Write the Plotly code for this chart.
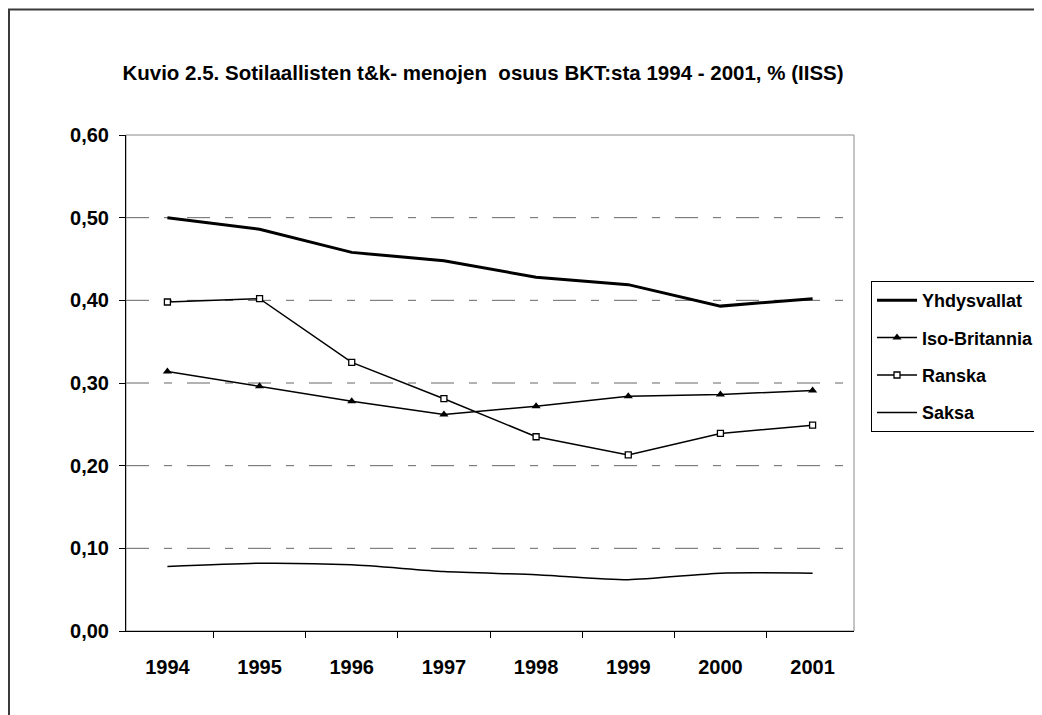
import plotly.graph_objects as go

years = ["1994", "1995", "1996", "1997", "1998", "1999", "2000", "2001"]
yhdysvallat = [0.500, 0.486, 0.458, 0.448, 0.428, 0.419, 0.393, 0.402]
iso_britannia = [0.314, 0.296, 0.278, 0.262, 0.272, 0.284, 0.286, 0.291]
ranska = [0.398, 0.402, 0.325, 0.281, 0.235, 0.213, 0.239, 0.249]
saksa = [0.078, 0.082, 0.080, 0.072, 0.068, 0.062, 0.070, 0.070]
y_tick_vals = [0.0, 0.1, 0.2, 0.3, 0.4, 0.5, 0.6]
y_tick_text = ["0,00", "0,10", "0,20", "0,30", "0,40", "0,50", "0,60"]
title_text = "Kuvio 2.5. Sotilaallisten t&k- menojen \u00a0osuus BKT:sta 1994 - 2001, % (IISS)"

FONT = "Liberation Sans, Arial, sans-serif"
OFF = 8  # page body margin
PL, PW, PT, PB = 126 - OFF, 728, 135 - OFF, 631 - OFF  # plot area in figure px
PH = PB - PT

fig = go.Figure()
fig.add_trace(go.Scatter(x=years, y=yhdysvallat, name="<b>Yhdysvallat</b>", mode="lines",
                         line=dict(color="black", width=3), legendgroup="a"))
fig.add_trace(go.Scatter(x=years, y=iso_britannia, name="<b>Iso-Britannia</b>", mode="lines+markers",
                         line=dict(color="black", width=1.5),
                         marker=dict(symbol="triangle-up", size=8, color="black"), legendgroup="b"))
fig.add_trace(go.Scatter(x=years, y=ranska, name="<b>Ranska</b>", mode="lines+markers",
                         line=dict(color="black", width=1.5),
                         marker=dict(symbol="square", size=6, color="white",
                                     line=dict(color="black", width=1.3)), legendgroup="c"))
fig.add_trace(go.Scatter(x=years, y=saksa, name="<b>Saksa</b>", mode="lines",
                         line=dict(color="black", width=1.5, shape="spline", smoothing=0.6), legendgroup="d"))

# dashed gridlines
for v in y_tick_vals[1:-1]:
    fig.add_shape(type="line", xref="paper", yref="y", x0=0, x1=1, y0=v, y1=v,
                  line=dict(color="#666666", width=1, dash="23px,15px,8px,15px"), layer="below")
# plot area border (gray top/right)
fig.add_shape(type="rect", xref="paper", yref="paper", x0=0, x1=1, y0=0, y1=1,
              line=dict(color="#888888", width=1), layer="below")
# outer chart border (left/top visible, right/bottom beyond the view)
fig.add_shape(type="rect", xref="paper", yref="paper",
              x0=(1 - PL) / PW, x1=1.4, y0=-0.4, y1=(PB - 1.5) / PH,
              line=dict(color="#3a3a3a", width=2), layer="below")

fig.update_layout(
    width=1042, height=715,
    paper_bgcolor="white", plot_bgcolor="white",
    margin=dict(l=PL, r=1042 - PL - PW, t=PT, b=715 - PB, autoexpand=False),
    font=dict(family=FONT, color="black"),
    title=dict(text="<b>" + title_text + "</b>", x=(483 - OFF) / 1042, xanchor="center",
               y=1 - (73 - OFF) / 715, yanchor="middle", font=dict(size=20.5, family=FONT)),
    showlegend=True,
    legend=dict(x=(871 - 126) / 728, xanchor="left", y=(631 - 281) / 496, yanchor="top",
                bordercolor="black", borderwidth=1, bgcolor="white",
                font=dict(size=18, family=FONT), traceorder="grouped", tracegroupgap=11,
                itemwidth=40, entrywidth=260, entrywidthmode="pixels"),
)
fig.update_xaxes(type="category", showgrid=False, showline=True, linecolor="black", linewidth=1,
                 ticks="outside", tickson="boundaries", ticklen=6, tickcolor="black",
                 tickfont=dict(size=20, family=FONT), ticklabelstandoff=18,
                 tickprefix="<b>", ticksuffix="</b>")
fig.update_yaxes(range=[0, 0.6], showgrid=False, showline=True, linecolor="black", linewidth=1,
                 ticks="outside", ticklen=6, tickcolor="black", zeroline=False,
                 tickvals=y_tick_vals, ticktext=["<b>" + t + "</b>" for t in y_tick_text],
                 tickfont=dict(size=20, family=FONT), ticklabelstandoff=6)

fig.write_html("out.html")
